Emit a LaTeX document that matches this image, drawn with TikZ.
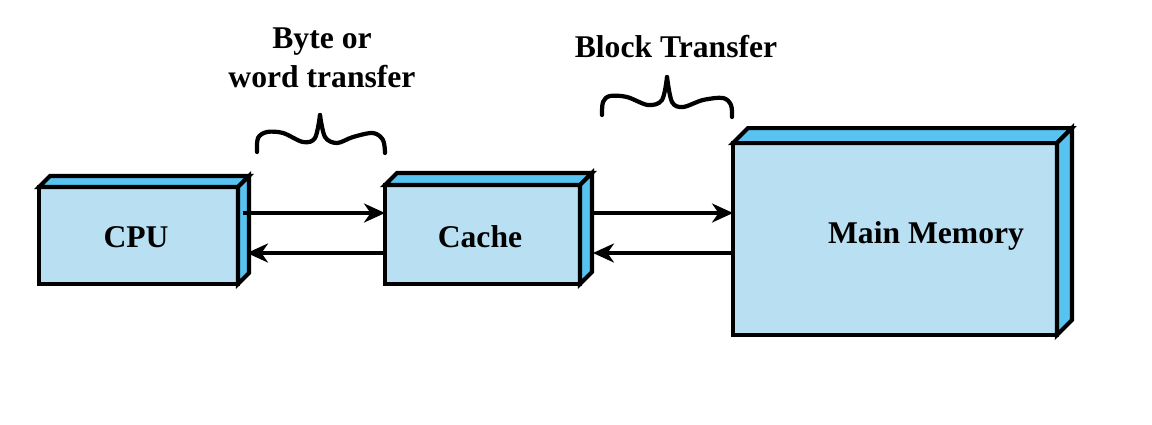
\documentclass[tikz,border=0pt]{standalone}
\usepackage{fontspec}
\setmainfont{Liberation Serif}
\usetikzlibrary{arrows.meta}
\definecolor{boxfront}{RGB}{184,224,242}
\definecolor{boxside}{RGB}{88,194,240}
\tikzset{
  hwbox/.style={draw, fill=boxfront, line width=2.3pt, outer sep=0pt, inner sep=0pt},
  lbl/.style={font=\fontsize{18}{22}\selectfont\bfseries, inner sep=0pt, anchor=base},
  boxface/.style={fill=boxside, draw, line width=2.3pt},
  link/.style={line width=1.9pt, -{Stealth[length=0.42cm, width=0.38cm, inset=0.13cm]}},
  curly/.style={line width=2.4pt, line cap=round, line join=round}
}
% top and right faces of a box node: #1 node, #2 depth
\newcommand{\boxdepth}[2]{%
  \filldraw[boxface] (#1.north west) -- ++(#2,-#2) -- ([shift={(#2,-#2)}]#1.north east) -- (#1.north east) -- cycle;
  \filldraw[boxface] (#1.north east) -- ++(#2,-#2) -- ([shift={(#2,-#2)}]#1.south east) -- (#1.south east) -- cycle;
}
\begin{document}
\begin{tikzpicture}[x=0.02cm, y=-0.02cm]
    \useasboundingbox (0,0) rectangle (1152,424);
    % boxes
    \node[hwbox, minimum width=3.98cm, minimum height=1.94cm] (cpu) at (138.5,235.5) {};
    \node[hwbox, minimum width=3.9cm, minimum height=1.98cm] (cache) at (482.5,234.5) {};
    \node[hwbox, minimum width=6.48cm, minimum height=3.84cm] (mem) at (895,239) {};
    \boxdepth{cpu}{11}
    \boxdepth{cache}{12}
    \boxdepth{mem}{15}
    \node[lbl] (cputext) at (136,247) {CPU};
    \node[lbl] (cachetext) at (480,247) {Cache};
    \node[lbl] (memtext) at (926,243) {Main Memory};
    % transfers
    \coordinate (hi) at (0,213);
    \coordinate (lo) at (0,253);
    \draw[link, shorten <=0.1cm] (cpu.east |- hi) -- (cache.west |- hi);
    \draw[link, shorten >=0.18cm] (cache.west |- lo) -- (cpu.east |- lo);
    \draw[link, shorten <=0.2cm] (cache.east |- hi) -- (mem.west |- hi);
    \draw[link, shorten >=0.26cm] (mem.west |- lo) -- (cache.east |- lo);
    % labels and braces
    \node[lbl] (bytetext) at (322,48) {Byte or};
    \node[lbl] (wordtext) at (322,87) {word transfer};
    \node[lbl] (blocktext) at (676,57) {Block Transfer};
    \draw[curly] plot[smooth, tension=0.55] coordinates {(257,152) (258,138) (267,132) (283,133) (303,142) (315,138) (320,115)};
    \draw[curly] plot[smooth, tension=0.55] coordinates {(320,115) (325,137) (337,143) (353,137) (373,133) (383,140) (385,153)};
    \draw[curly] plot[smooth, tension=0.55] coordinates {(602,115) (603,102) (610,96) (627,97) (648,105) (662,100) (667,77)};
    \draw[curly] plot[smooth, tension=0.55] coordinates {(667,77) (672,102) (683,107) (703,100) (723,98) (731,105) (732,117)};
\end{tikzpicture}
\end{document}
